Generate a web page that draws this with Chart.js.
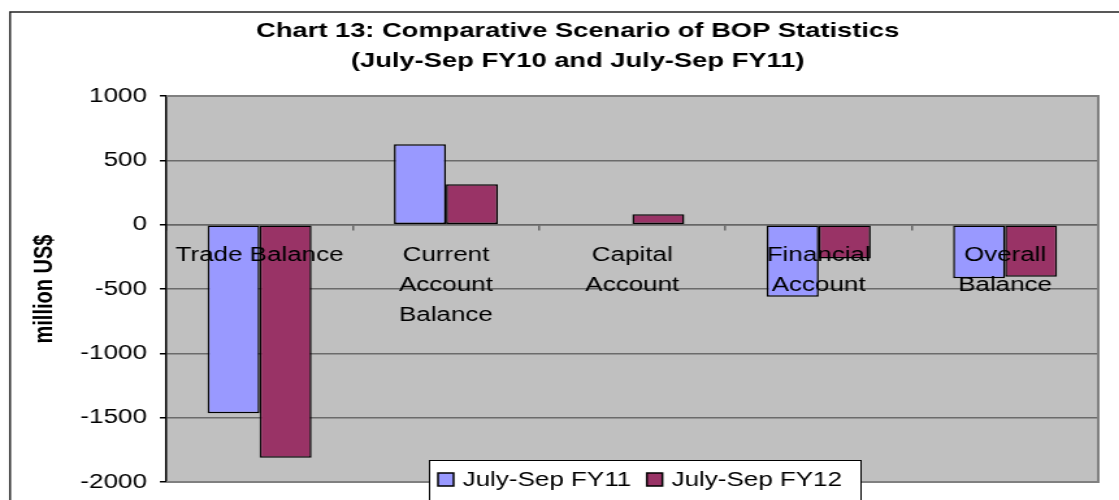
<!DOCTYPE html>
<html>
<head>
<meta charset="utf-8">
<script src="https://cdn.jsdelivr.net/npm/chart.js@4.4.1/dist/chart.umd.min.js"></script>
<style>
  html, body { margin: 0; padding: 0; background: #fff; overflow: hidden; }
  /* the source picture is stretched sideways, so the canvas is too */
  #wrap { width: 861px; height: 504px; transform: scaleX(1.2997); transform-origin: 0 0; }
</style>
</head>
<body>
<div id="wrap"><canvas id="bopChart" width="861" height="504"></canvas></div>
<script>
const categories = [
  'Trade Balance',
  ['Current', 'Account', 'Balance'],
  ['Capital', 'Account'],
  ['Financial', 'Account'],
  ['Overall', 'Balance']
];
const seriesNames = ['July-Sep FY11', 'July-Sep FY12'];
const fy11Values = [-1466, 625, 0, -560, -417];
const fy12Values = [-1812, 315, 81, -263, -404];
const yMin = -2000;
const yMax = 1000;
const yStep = 500;

const FONT = '"Liberation Sans", Arial, sans-serif';

// white page, Excel chart border and silver plot area
const backdrop = {
  id: 'backdrop',
  beforeDraw(chart) {
    const { ctx, chartArea: a } = chart;
    ctx.save();
    ctx.fillStyle = '#fff';
    ctx.fillRect(0, 0, chart.width, chart.height);
    ctx.strokeStyle = '#222';
    ctx.lineWidth = 1.5;
    ctx.strokeRect(7.7, 12, chart.width + 50, chart.height + 50);
    ctx.fillStyle = '#c0c0c0';
    ctx.fillRect(a.left, a.top, a.right - a.left, a.bottom - a.top);
    ctx.restore();
  },
  beforeDatasetsDraw(chart) {
    const { ctx, chartArea: a } = chart;
    ctx.save();
    ctx.strokeStyle = '#808080';
    ctx.lineWidth = 2;
    ctx.beginPath();
    ctx.moveTo(a.left, a.top);
    ctx.lineTo(a.right, a.top);
    ctx.lineTo(a.right, a.bottom);
    ctx.lineTo(a.left, a.bottom);
    ctx.stroke();
    ctx.restore();
  }
};

// boxed legend that sits over the bottom edge of the plot
const boxLegend = {
  id: 'boxLegend',
  afterDraw(chart) {
    const ctx = chart.ctx;
    ctx.save();
    ctx.fillStyle = '#fff';
    ctx.fillRect(330, 460, 332, 60);
    ctx.strokeStyle = '#000';
    ctx.lineWidth = 1;
    ctx.strokeRect(330.5, 460.5, 332, 60);
    ctx.font = '20px ' + FONT;
    ctx.textBaseline = 'middle';
    let x = 337;
    chart.data.datasets.forEach(ds => {
      ctx.fillStyle = ds.backgroundColor;
      ctx.fillRect(x, 473, 12, 13);
      ctx.lineWidth = 1.5;
      ctx.strokeRect(x, 473, 12, 13);
      ctx.fillStyle = '#000';
      ctx.fillText(ds.label, x + 19, 480);
      x += 19 + ctx.measureText(ds.label).width + 12;
    });
    ctx.restore();
  }
};

new Chart(document.getElementById('bopChart'), {
  type: 'bar',
  data: {
    labels: categories,
    datasets: [
      {
        label: seriesNames[0],
        data: fy11Values,
        backgroundColor: '#9999ff',
        borderColor: '#000',
        borderWidth: 1.5,
        borderSkipped: false
      },
      {
        label: seriesNames[1],
        data: fy12Values,
        backgroundColor: '#993366',
        borderColor: '#000',
        borderWidth: 1.5,
        borderSkipped: false
      }
    ]
  },
  options: {
    responsive: false,
    animation: false,
    categoryPercentage: 0.558,
    barPercentage: 1.0,
    layout: { padding: { left: 44, right: 16, top: 0, bottom: 4 } },
    plugins: {
      legend: { display: false },
      tooltip: { enabled: false },
      title: {
        display: true,
        text: ['Chart 13: Comparative Scenario of BOP Statistics', '(July-Sep FY10 and July-Sep FY11)'],
        color: '#000',
        font: { family: FONT, size: 21, weight: 'bold', lineHeight: 1.43 },
        padding: { top: 16, bottom: 20 }
      }
    },
    scales: {
      x: {
        position: { y: 0 },
        afterFit(scale) { scale.height = 0; },
        grid: {
          drawOnChartArea: false,
          offset: true,
          tickLength: 5,
          color: '#666',
          lineWidth: 1.5
        },
        border: { display: true, color: '#666', width: 1.5 },
        ticks: {
          z: 1, // labels go over the bars, as in the Excel original
          color: '#000',
          font: { family: FONT, size: 20, lineHeight: 1.5 },
          padding: 11,
          autoSkip: false,
          maxRotation: 0,
          minRotation: 0
        }
      },
      y: {
        min: yMin,
        max: yMax,
        afterFit(scale) { scale.width = 84; },
        grid: {
          color: '#6b6b6b',
          lineWidth: 1.5,
          tickLength: 5,
          tickColor: '#000'
        },
        border: { display: true, color: '#000', width: 1.5 },
        ticks: {
          stepSize: yStep,
          color: '#000',
          padding: 10,
          font: { family: FONT, size: 20 },
          callback: v => String(v)
        },
        title: {
          display: true,
          text: 'million US$',
          color: '#000',
          font: { family: FONT, size: 20, weight: 'bold' },
          padding: { top: -22, bottom: 0 }
        }
      }
    }
  },
  plugins: [backdrop, boxLegend]
});
</script>
</body>
</html>
